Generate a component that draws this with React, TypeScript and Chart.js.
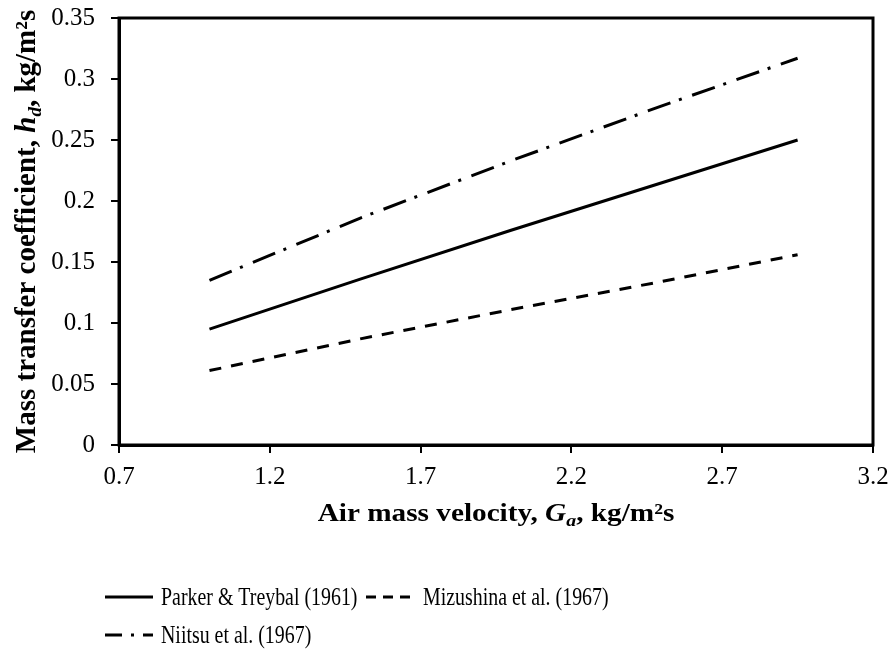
import React, { useEffect, useRef } from "react";
import { Chart, registerables } from "chart.js";

Chart.register(...registerables);

// ---- data ----
const airMassVelocity = [1.0, 1.5, 2.0, 2.5, 2.95];
const parkerTreybal = [0.095, 0.136, 0.176, 0.215, 0.25];
const mizushina = [0.061, 0.087, 0.111, 0.134, 0.156];
const niitsu = [0.135, 0.186, 0.233, 0.278, 0.317];
const seriesLabels = ["Parker & Treybal (1961)", "Mizushina et al. (1967)", "Niitsu et al. (1967)"];
const xRange = [0.7, 3.2];
const xStep = 0.5;
const yRange = [0, 0.35];
const yStep = 0.05;

const FONT = '"Liberation Serif", "Times New Roman", serif';
const AREA = { left: 119, top: 18, right: 873, bottom: 445 };

type Seg = { text: string; font: string; dy?: number };

function drawRich(ctx: CanvasRenderingContext2D, segs: Seg[], scaleX: number) {
  let total = 0;
  const widths = segs.map((s) => {
    ctx.font = s.font;
    const w = ctx.measureText(s.text).width;
    total += w;
    return w;
  });
  ctx.save();
  ctx.scale(scaleX, 1);
  ctx.textBaseline = "alphabetic";
  ctx.textAlign = "left";
  ctx.fillStyle = "#000";
  let cx = -total / 2;
  segs.forEach((s, i) => {
    ctx.font = s.font;
    ctx.fillText(s.text, cx, s.dy || 0);
    cx += widths[i];
  });
  ctx.restore();
}

const framePlugin = {
  id: "frame",
  afterDatasetsDraw(chart: any) {
    const { ctx, chartArea } = chart;
    ctx.save();
    ctx.strokeStyle = "#000";
    ctx.lineWidth = 3;
    ctx.setLineDash([]);
    ctx.strokeRect(chartArea.left, chartArea.top, chartArea.right - chartArea.left, chartArea.bottom - chartArea.top);
    ctx.restore();
  },
};

const titlesPlugin = {
  id: "axisTitles",
  afterDraw(chart: any) {
    const { ctx, chartArea } = chart;
    const cxMid = (chartArea.left + chartArea.right) / 2;
    const cyMid = (chartArea.top + chartArea.bottom) / 2;
    ctx.save();
    ctx.translate(cxMid, 521);
    drawRich(
      ctx,
      [
        { text: "Air mass velocity, ", font: `bold 25px ${FONT}` },
        { text: "G", font: `italic bold 25px ${FONT}` },
        { text: "a", font: `italic bold 17px ${FONT}`, dy: 5 },
        { text: ", kg/m²s", font: `bold 25px ${FONT}` },
      ],
      1.17
    );
    ctx.restore();
    ctx.save();
    ctx.translate(35, cyMid);
    ctx.rotate(-Math.PI / 2);
    drawRich(
      ctx,
      [
        { text: "Mass transfer coefficient, ", font: `bold 29px ${FONT}` },
        { text: "h", font: `italic bold 29px ${FONT}` },
        { text: "d", font: `italic bold 19px ${FONT}`, dy: 6 },
        { text: ", kg/m²s", font: `bold 29px ${FONT}` },
      ],
      1
    );
    ctx.restore();
  },
};

const legendItems = [
  { x0: 105, x1: 153, tx: 161, y: 597, dash: [] as number[] },
  { x0: 366, x1: 410, tx: 423, y: 597, dash: [10, 7] },
  { x0: 105, x1: 153, tx: 161, y: 635, dash: [17, 9, 3, 9] },
];

const legendPlugin = {
  id: "customLegend",
  afterDraw(chart: any) {
    const { ctx } = chart;
    chart.data.datasets.forEach((ds: any, i: number) => {
      const it = legendItems[i];
      ctx.save();
      ctx.strokeStyle = ds.borderColor;
      ctx.lineWidth = 3;
      ctx.setLineDash(it.dash);
      ctx.beginPath();
      ctx.moveTo(it.x0, it.y);
      ctx.lineTo(it.x1, it.y);
      ctx.stroke();
      ctx.setLineDash([]);
      ctx.translate(it.tx, it.y);
      ctx.scale(0.765, 1);
      ctx.font = `26px ${FONT}`;
      ctx.fillStyle = "#000";
      ctx.textAlign = "left";
      ctx.textBaseline = "middle";
      ctx.fillText(ds.label, 0, 1);
      ctx.restore();
    });
  },
};

const fmt = (v: any) => String(+Number(v).toFixed(2));

const zeroPad = (s: any) => {
  s.paddingTop = 0;
  s.paddingBottom = 0;
  s.paddingLeft = 0;
  s.paddingRight = 0;
};

export default function App() {
  const ref = useRef<HTMLCanvasElement | null>(null);
  useEffect(() => {
    if (!ref.current) return;
    const mk = (ys: number[]) => airMassVelocity.map((x, i) => ({ x, y: ys[i] }));
    const chart = new Chart(ref.current, {
      type: "line",
      data: {
        datasets: [
          { label: seriesLabels[0], data: mk(parkerTreybal), borderColor: "#000", borderWidth: 3, pointRadius: 0, borderDash: [], tension: 0, fill: false },
          { label: seriesLabels[1], data: mk(mizushina), borderColor: "#000", borderWidth: 3, pointRadius: 0, borderDash: [12, 10], tension: 0, fill: false },
          { label: seriesLabels[2], data: mk(niitsu), borderColor: "#000", borderWidth: 3, pointRadius: 0, borderDash: [24, 9, 3, 11], tension: 0, fill: false },
        ],
      },
      options: {
        animation: false,
        responsive: false,
        devicePixelRatio: 1,
        layout: { autoPadding: false, padding: { left: 0, top: AREA.top, right: 895 - AREA.right, bottom: 0 } },
        plugins: { legend: { display: false }, tooltip: { enabled: false } },
        scales: {
          x: {
            type: "linear",
            min: xRange[0],
            max: xRange[1],
            afterFit: (s: any) => {
              s.height = 652 - AREA.bottom;
              zeroPad(s);
            },
            ticks: { stepSize: xStep, color: "#000", font: { family: FONT, size: 25 }, padding: 9, callback: fmt },
            grid: { display: true, drawOnChartArea: false, drawTicks: true, tickLength: 8, color: "#000", lineWidth: 2 },
            border: { display: true, color: "#000", width: 3 },
          },
          y: {
            type: "linear",
            min: yRange[0],
            max: yRange[1],
            afterFit: (s: any) => {
              s.width = AREA.left;
              zeroPad(s);
            },
            ticks: { stepSize: yStep, color: "#000", font: { family: FONT, size: 25 }, padding: 16, callback: fmt },
            grid: { display: true, drawOnChartArea: false, drawTicks: true, tickLength: 8, color: "#000", lineWidth: 2 },
            border: { display: true, color: "#000", width: 3 },
          },
        },
      } as any,
      plugins: [framePlugin, titlesPlugin, legendPlugin],
    });
    return () => chart.destroy();
  }, []);
  return (
    <div style={{ position: "absolute", left: 0, top: 0, width: 895, height: 652, background: "#fff" }}>
      <canvas ref={ref} width={895} height={652} style={{ display: "block" }} />
    </div>
  );
}
